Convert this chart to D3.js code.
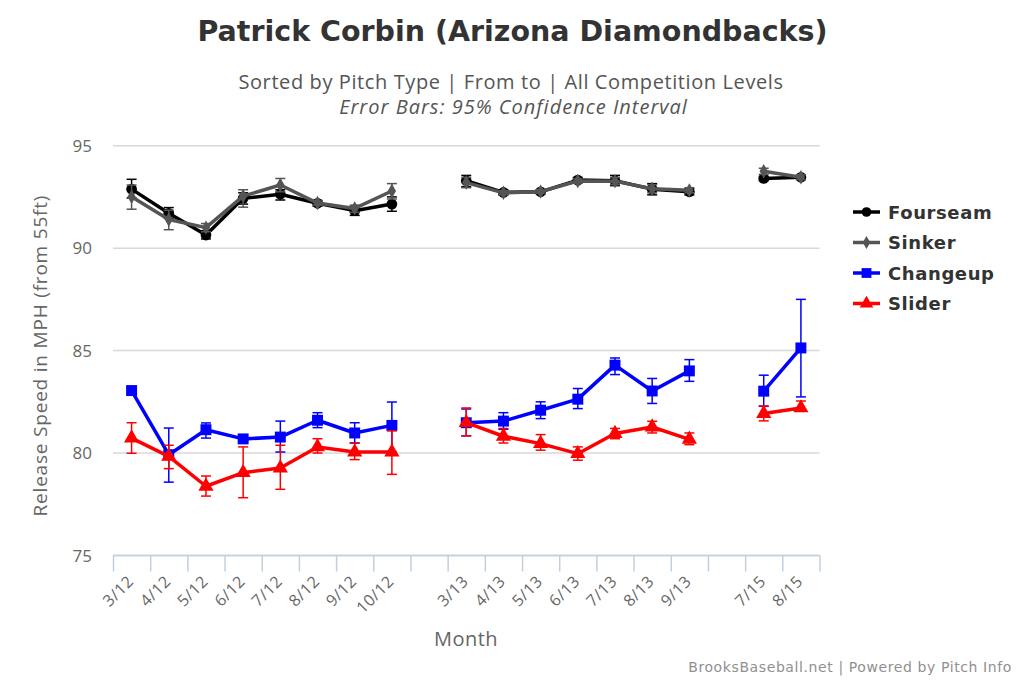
<!DOCTYPE html>
<html>
<head>
<meta charset="utf-8">
<script src="https://cdn.jsdelivr.net/npm/d3@7"></script>
<style>
  html, body { margin: 0; padding: 0; background: #fff; }
  svg { display: block; }
</style>
</head>
<body>
<svg id="chart" width="1024" height="683"></svg>
<script>
// ---- data ----
const categories = ["3/12","4/12","5/12","6/12","7/12","8/12","9/12","10/12","","3/13","4/13","5/13","6/13","7/13","8/13","9/13","","7/15","8/15"];
const yTicks = [75, 80, 85, 90, 95];

const fourseam     = [92.88, 91.70, 90.64, 92.43, 92.63, 92.19, 91.83, 92.15, null, 93.29, 92.72, 92.75, 93.32, 93.29, 92.88, 92.75, null, 93.40, 93.46];
const fourseamLow  = [92.45, 91.45, 90.45, 92.15, 92.35, 92.05, 91.60, 91.80, null, 93.00, 92.60, 92.65, 93.20, 93.05, 92.60, 92.60, null, 93.30, 93.35];
const fourseamHigh = [93.36, 91.98, 90.85, 92.70, 92.85, 92.33, 92.05, 92.50, null, 93.55, 92.85, 92.85, 93.45, 93.55, 93.15, 92.90, null, 93.50, 93.58];

const sinker     = [92.51, 91.40, 91.00, 92.54, 93.08, 92.20, 91.94, 92.79, null, 93.20, 92.70, 92.76, 93.28, 93.27, 92.90, 92.82, null, 93.75, 93.46];
const sinkerLow  = [91.90, 90.90, 90.80, 92.00, 92.75, 92.10, 91.75, 92.40, null, 92.95, 92.60, 92.68, 93.18, 93.10, 92.70, 92.70, null, 93.60, 93.35];
const sinkerHigh = [93.08, 91.85, 91.20, 92.85, 93.40, 92.30, 92.10, 93.15, null, 93.45, 92.80, 92.85, 93.38, 93.45, 93.10, 92.95, null, 93.90, 93.58];

const changeup     = [83.05, 79.92, 81.14, 80.69, 80.78, 81.60, 80.98, 81.35, null, 81.48, 81.56, 82.09, 82.63, 84.29, 83.03, 84.01, null, 83.02, 85.13];
const changeupLow  = [82.90, 78.58, 80.73, 80.58, 80.05, 81.24, 80.49, 80.05, null, 80.84, 81.16, 81.68, 82.17, 83.83, 82.42, 83.50, null, 82.28, 82.74];
const changeupHigh = [83.20, 81.22, 81.47, 80.80, 81.56, 81.97, 81.48, 82.49, null, 82.15, 81.97, 82.50, 83.15, 84.64, 83.64, 84.56, null, 83.80, 87.50];

const slider     = [80.73, 79.84, 78.38, 79.04, 79.27, 80.30, 80.05, 80.05, null, 81.48, 80.82, 80.46, 79.97, 80.95, 81.27, 80.67, null, 81.93, 82.20];
const sliderLow  = [79.99, 79.24, 77.90, 77.82, 78.23, 80.00, 79.68, 78.96, null, 80.84, 80.49, 80.14, 79.65, 80.70, 80.98, 80.41, null, 81.57, 82.05];
const sliderHigh = [81.48, 80.38, 78.88, 80.30, 80.38, 80.70, 80.49, 81.08, null, 82.20, 81.20, 80.90, 80.30, 81.20, 81.55, 80.98, null, 82.30, 82.54];

const seriesNames = ["Fourseam", "Sinker", "Changeup", "Slider"];
const seriesColors = ["#000000", "#555555", "#0000ff", "#ff0000"];
const seriesSymbols = [d3.symbolCircle, d3.symbolDiamond, d3.symbolSquare, d3.symbolTriangle];

// ---- layout ----
const svg = d3.select("#chart");
const plot = { left: 113, right: 819.5, top: 145.7, bottom: 555.5 };

const x = d3.scaleBand().domain(d3.range(categories.length)).range([plot.left, plot.right]).padding(0);
const y = d3.scaleLinear().domain([75, 95]).range([plot.bottom, plot.top]);
const cx = i => x(i) + x.bandwidth() / 2;

// titles
svg.append("text").attr("x", 512.5).attr("y", 41).attr("text-anchor", "middle")
  .style("font-family", "DejaVu Sans").style("font-weight", "bold").style("font-size", "28.5px").attr("fill", "#333")
  .text("Patrick Corbin (Arizona Diamondbacks)");
svg.append("text").attr("x", 511).attr("y", 89).attr("text-anchor", "middle")
  .style("font-family", "Open Sans").style("font-size", "20px").style("letter-spacing", "0.6px").attr("fill", "#555")
  .text("Sorted by Pitch Type | From to | All Competition Levels");
svg.append("text").attr("x", 513.5).attr("y", 114).attr("text-anchor", "middle")
  .style("font-family", "Open Sans").style("font-style", "italic").style("font-size", "20px").style("letter-spacing", "1px").attr("fill", "#555")
  .text("Error Bars: 95% Confidence Interval");

// gridlines
svg.append("g").selectAll("line").data(yTicks).join("line")
  .attr("x1", plot.left).attr("x2", plot.right)
  .attr("y1", d => y(d)).attr("y2", d => y(d))
  .attr("stroke", "#d8d8d8").attr("stroke-width", 1.5);

// y axis labels
svg.append("g").selectAll("text").data(yTicks).join("text")
  .attr("x", 92).attr("y", d => y(d) + 6).attr("text-anchor", "end")
  .style("font-family", "Open Sans").style("font-size", "17px").attr("fill", "#666")
  .text(d => d);

svg.append("text").attr("transform", `translate(47,${(plot.top + plot.bottom) / 2 + 5}) rotate(-90)`)
  .attr("text-anchor", "middle")
  .style("font-family", "Open Sans").style("font-size", "19px").style("letter-spacing", "0.8px").attr("fill", "#666")
  .text("Release Speed in MPH (from 55ft)");

// x axis
const xAxis = d3.axisBottom(d3.scaleLinear().domain([0, categories.length]).range([plot.left, plot.right]))
  .tickValues(d3.range(categories.length + 1)).tickSize(16).tickFormat("");
const gx = svg.append("g").attr("transform", `translate(0,${plot.bottom})`).call(xAxis);
gx.select(".domain").attr("stroke", "#c0d0e0").attr("stroke-width", 1.5).attr("d", `M${plot.left},0H${plot.right}`);
gx.selectAll(".tick line").attr("stroke", "#c0d0e0").attr("stroke-width", 1.5);

svg.append("g").selectAll("text").data(categories.map((c, i) => ({ c, i })).filter(d => d.c !== "")).join("text")
  .attr("transform", d => `translate(${cx(d.i) + 3},${plot.bottom + 27}) rotate(-45)`)
  .attr("text-anchor", "end")
  .style("font-family", "Open Sans").style("font-size", "16px").style("letter-spacing", "0.5px").attr("fill", "#666")
  .text(d => d.c);

svg.append("text").attr("x", 466).attr("y", 646).attr("text-anchor", "middle")
  .style("font-family", "Open Sans").style("font-size", "20px").style("letter-spacing", "0.5px").attr("fill", "#666")
  .text("Month");

// series
const allSeries = [
  { v: fourseam, lo: fourseamLow, hi: fourseamHigh },
  { v: sinker, lo: sinkerLow, hi: sinkerHigh },
  { v: changeup, lo: changeupLow, hi: changeupHigh },
  { v: slider, lo: sliderLow, hi: sliderHigh }
];
const symbolSizes = [90, 60, 120, 100];

allSeries.forEach((s, k) => {
  const color = seriesColors[k];
  const g = svg.append("g");
  const pts = s.v.map((v, i) => ({ i, v, lo: s.lo[i], hi: s.hi[i] }));
  const line = d3.line().defined(d => d.v != null).x(d => cx(d.i)).y(d => y(d.v));
  g.append("path").datum(pts).attr("d", line).attr("fill", "none")
    .attr("stroke", color).attr("stroke-width", 3.5).attr("stroke-linejoin", "round");
  const valid = pts.filter(d => d.v != null);
  // error bars
  const eb = g.append("g").attr("stroke", color).attr("stroke-width", 1.5);
  eb.selectAll("line.stem").data(valid).join("line").attr("class", "stem")
    .attr("x1", d => cx(d.i)).attr("x2", d => cx(d.i)).attr("y1", d => y(d.lo)).attr("y2", d => y(d.hi));
  eb.selectAll("line.capHi").data(valid).join("line").attr("class", "capHi")
    .attr("x1", d => cx(d.i) - 5).attr("x2", d => cx(d.i) + 5).attr("y1", d => y(d.hi)).attr("y2", d => y(d.hi));
  eb.selectAll("line.capLo").data(valid).join("line").attr("class", "capLo")
    .attr("x1", d => cx(d.i) - 5).attr("x2", d => cx(d.i) + 5).attr("y1", d => y(d.lo)).attr("y2", d => y(d.lo));
  // markers
  g.selectAll("path.m").data(valid).join("path").attr("class", "m")
    .attr("transform", d => `translate(${cx(d.i)},${y(d.v)})`)
    .attr("d", d3.symbol().type(seriesSymbols[k]).size(symbolSizes[k]))
    .attr("fill", color);
});

// legend
const legend = svg.append("g").attr("transform", "translate(853,212)");
seriesNames.forEach((name, k) => {
  const row = legend.append("g").attr("transform", `translate(0,${k * 30.5})`);
  row.append("line").attr("x1", 0).attr("x2", 27).attr("y1", 0).attr("y2", 0)
    .attr("stroke", seriesColors[k]).attr("stroke-width", 3.5);
  row.append("path").attr("transform", "translate(13.5,0)")
    .attr("d", d3.symbol().type(seriesSymbols[k]).size(symbolSizes[k] * 0.8)).attr("fill", seriesColors[k]);
  row.append("text").attr("x", 35).attr("y", 6.5)
    .style("font-family", "DejaVu Sans").style("font-weight", "bold").style("font-size", "18px").style("letter-spacing", "0.6px").attr("fill", "#333")
    .text(name);
});

// credits
svg.append("text").attr("x", 1012).attr("y", 672).attr("text-anchor", "end")
  .style("font-family", "DejaVu Sans").style("font-size", "14px").style("letter-spacing", "0.6px").attr("fill", "#909090")
  .text("BrooksBaseball.net | Powered by Pitch Info");
</script>
</body>
</html>
